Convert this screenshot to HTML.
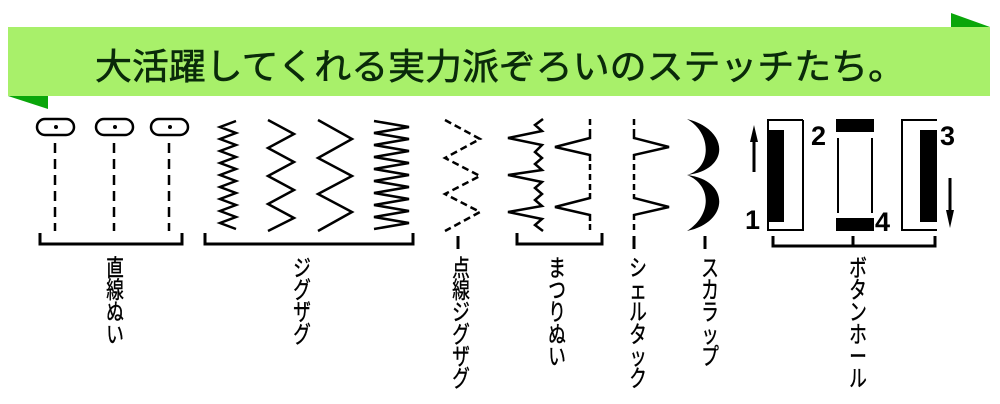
<!DOCTYPE html>
<html><head><meta charset="utf-8"><style>
html,body{margin:0;padding:0;background:#fff;width:1000px;height:404px;overflow:hidden}
svg{display:block}
</style></head><body>
<svg width="1000" height="404" viewBox="0 0 1000 404" xmlns="http://www.w3.org/2000/svg">
<rect x="8" y="27" width="982" height="69" fill="#a8f06a"/>
<polygon points="8,96 48,96 48,109" fill="#0aa60a"/>
<polygon points="951,13 951,27 990,27" fill="#0aa60a"/>
<text x="95" y="79" font-family="Liberation Sans, Noto Sans CJK JP, sans-serif" font-size="36" fill="#0a2a0a" stroke="#0a2a0a" stroke-width="0.6" textLength="810" lengthAdjust="spacingAndGlyphs">大活躍してくれる実力派ぞろいのステッチたち。</text>

<g fill="none" stroke="#000" stroke-width="2.5">
<rect x="37" y="119" width="37" height="16" rx="8"/>
<rect x="96" y="119" width="37" height="16" rx="8"/>
<rect x="151" y="119" width="37" height="16" rx="8"/>
<g stroke-dasharray="10,6">
<line x1="55" y1="143" x2="55" y2="231"/>
<line x1="114" y1="143" x2="114" y2="231"/>
<line x1="169" y1="143" x2="169" y2="231"/>
</g>
<polyline points="236,121 220,127 236,133 220,139 236,145 220,151 236,157 220,163 236,169 220,175 236,181 220,187 236,193 220,199 236,205 220,211 236,217 220,223 236,229"/>
<polyline points="268,120 294,134 268,148 294,162 268,176 294,190 268,204 294,218 268,231"/>
<polyline points="318,120 352,139 318,158 352,176 318,194 352,212 318,231"/>
<polyline points="374,121 409,127 374,133 409,139 374,145 409,151 374,157 409,163 374,169 409,175 374,181 409,187 374,193 409,199 374,205 409,211 374,217 409,223 374,229"/>
<polyline stroke-dasharray="7,4" points="445,120 480,139 445,158 480,176 445,194 480,212 445,231"/>
<polyline points="543,119 535,125 542,131 508,138 542,145 535,152 542,158 535,164 542,170 508,175 542,182 535,188 542,194 535,200 542,206 508,212 542,219 535,225 543,231"/>
<line x1="590" y1="119" x2="590" y2="132" stroke-dasharray="6,4"/>
<polyline points="590,132 590,138 555,147 590,155 590,161"/>
<line x1="590" y1="164" x2="590" y2="193" stroke-dasharray="6,4"/>
<polyline points="590,193 590,198 555,207 590,215 590,221"/>
<line x1="590" y1="224" x2="590" y2="232" stroke-dasharray="6,4"/>
<line x1="634" y1="119" x2="634" y2="134" stroke-dasharray="6,4"/>
<polyline points="634,134 634,138 669,147 634,155 634,160"/>
<line x1="634" y1="164" x2="634" y2="194" stroke-dasharray="6,4"/>
<polyline points="634,194 634,198 669,207 634,215 634,220"/>
<line x1="634" y1="224" x2="634" y2="232" stroke-dasharray="6,4"/>

<g stroke-width="3">
<polyline points="40,233 40,244 182,244 182,233"/>
<polyline points="205,233 205,244 413,244 413,233"/>
<line x1="458" y1="236" x2="458" y2="249"/>
<polyline points="517,233 517,244 602,244 602,233"/>
<line x1="634" y1="236" x2="634" y2="249"/>
<line x1="705" y1="236" x2="705" y2="249"/>
<polyline points="773,236 773,246 935,246 935,236"/>
<line x1="853" y1="236" x2="853" y2="246"/>
</g>
<polyline points="803,120 768,120 768,230 803,230 803,120" stroke-width="2"/>
<polyline points="937,120 902,120 902,230 937,230" stroke-width="2"/>
<line x1="838" y1="138" x2="838" y2="213" stroke-width="2"/>
<line x1="872" y1="138" x2="872" y2="213" stroke-width="2"/>
<line x1="754" y1="140" x2="754" y2="172" stroke-width="3"/>
<line x1="950" y1="178" x2="950" y2="212" stroke-width="3"/>
</g>
<path d="M687,119 C730,130 730,170 687,175 C730,180 730,222 687,231 C712,215 712,185 687,175 C712,168 712,133 687,119 Z" fill="#000"/>
<rect x="767" y="130" width="17" height="92" fill="#000"/>
<rect x="836" y="119" width="38" height="13" fill="#000"/>
<rect x="836" y="218" width="38" height="13" fill="#000"/>
<rect x="920" y="130" width="17" height="92" fill="#000"/>
<polygon points="750,142 754,125 758,142" fill="#000"/>
<polygon points="946,210 950,228 954,210" fill="#000"/>
<g font-family="Liberation Sans, sans-serif" font-weight="bold" font-size="27" fill="#000">
<text x="745" y="229">1</text>
<text x="811" y="145">2</text>
<text x="875" y="231">4</text>
<text x="940" y="145">3</text>
</g>
<circle cx="56" cy="127" r="2" fill="#000"/>
<circle cx="115" cy="127" r="2" fill="#000"/>
<circle cx="170" cy="127" r="2" fill="#000"/>

<g font-family="Liberation Sans, Noto Sans CJK JP, sans-serif" font-size="22" fill="#000" stroke="#000" stroke-width="0.4" text-anchor="middle">
<g transform="translate(115,0) scale(0.8,1.05)">
<text x="0" y="263">直</text><text x="0" y="284">線</text><text x="0" y="305">ぬ</text><text x="0" y="326">い</text></g>
<g transform="translate(302,0) scale(0.8,1.05)">
<text x="0" y="263">ジ</text><text x="0" y="284">グ</text><text x="0" y="305">ザ</text><text x="0" y="326">グ</text></g>
<g transform="translate(461,0) scale(0.8,1.05)">
<text x="0" y="263">点</text><text x="0" y="284">線</text><text x="0" y="305">ジ</text><text x="0" y="326">グ</text><text x="0" y="347">ザ</text><text x="0" y="368">グ</text></g>
<g transform="translate(557,0) scale(0.8,1.05)">
<text x="0" y="263">ま</text><text x="0" y="284">つ</text><text x="0" y="305">り</text><text x="0" y="326">ぬ</text><text x="0" y="347">い</text></g>
<g transform="translate(638,0) scale(0.8,1.05)">
<text x="0" y="263">シ</text><text x="0" y="284">ェ</text><text x="0" y="305">ル</text><text x="0" y="326">タ</text><text x="0" y="347">ッ</text><text x="0" y="368">ク</text></g>
<g transform="translate(710,0) scale(0.8,1.05)">
<text x="0" y="263">ス</text><text x="0" y="284">カ</text><text x="0" y="305">ラ</text><text x="0" y="326">ッ</text><text x="0" y="347">プ</text></g>
<g transform="translate(858,0) scale(0.8,1.05)">
<text x="0" y="263">ボ</text><text x="0" y="284">タ</text><text x="0" y="305">ン</text><text x="0" y="326">ホ</text><text x="0" y="347">ー</text><text x="0" y="368">ル</text></g>
</g>
</svg>
</body></html>
